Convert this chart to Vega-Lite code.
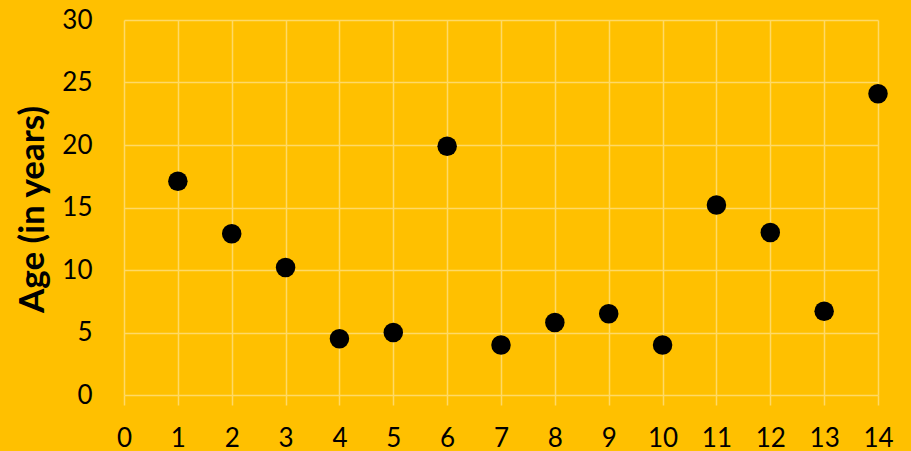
{
  "$schema": "https://vega.github.io/schema/vega-lite/v6.json",
  "width": 754,
  "height": 375,
  "autosize": {"type": "none"},
  "padding": {"left": 124, "top": 20, "right": 33, "bottom": 56},
  "background": "#FFC000",
  "config": {
    "view": {"stroke": null},
    "font": "Lato",
    "axis": {
      "labelFont": "Lato",
      "labelFontSize": 26,
      "labelColor": "#000000",
      "gridColor": "#FFD966",
      "gridWidth": 1.5,
      "gridOpacity": 1,
      "domain": false
    }
  },
  "data": {
    "values": [
      {"item": 1, "age": 17.1},
      {"item": 2, "age": 12.9},
      {"item": 3, "age": 10.2},
      {"item": 4, "age": 4.5},
      {"item": 5, "age": 5.0},
      {"item": 6, "age": 19.9},
      {"item": 7, "age": 4.0},
      {"item": 8, "age": 5.8},
      {"item": 9, "age": 6.5},
      {"item": 10, "age": 4.0},
      {"item": 11, "age": 15.2},
      {"item": 12, "age": 13.0},
      {"item": 13, "age": 6.7},
      {"item": 14, "age": 24.1}
    ]
  },
  "mark": {"type": "circle", "color": "#000000", "opacity": 1, "size": 380, "clip": false},
  "encoding": {
    "x": {
      "field": "item",
      "type": "quantitative",
      "scale": {"domain": [0, 14], "nice": false, "zero": true},
      "axis": {
        "title": null,
        "values": [0, 1, 2, 3, 4, 5, 6, 7, 8, 9, 10, 11, 12, 13, 14],
        "format": "d",
        "grid": true,
        "ticks": true,
        "tickColor": "#FFD966",
        "tickWidth": 1.5,
        "tickSize": 10,
        "labelPadding": 20,
        "labelFlush": false,
        "labelOverlap": false
      }
    },
    "y": {
      "field": "age",
      "type": "quantitative",
      "scale": {"domain": [0, 30], "nice": false},
      "axis": {
        "title": "Age (in years)",
        "titleFont": "Lato",
        "titleFontSize": 35,
        "titleFontWeight": "bold",
        "titleColor": "#000000",
        "titleBaseline": "alphabetic",
        "titleX": -81,
        "titleY": 189,
        "values": [0, 5, 10, 15, 20, 25, 30],
        "grid": true,
        "ticks": false,
        "labelPadding": 32,
        "labelFlush": false,
        "labelOverlap": false
      }
    }
  }
}
